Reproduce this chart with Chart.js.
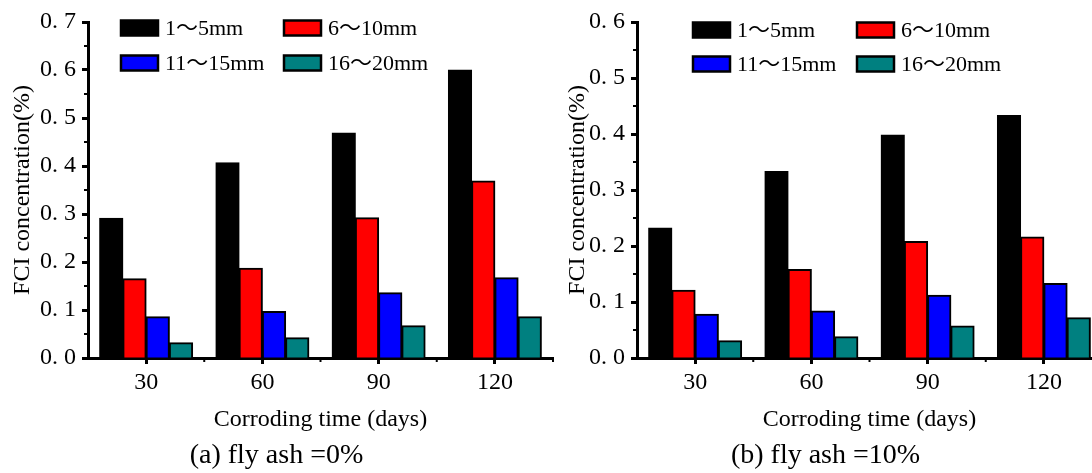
<!DOCTYPE html>
<html>
<head>
<meta charset="utf-8">
<script src="https://cdn.jsdelivr.net/npm/chart.js@4.4.0/dist/chart.umd.min.js"></script>
<style>
  html, body { margin: 0; padding: 0; background: #fff; overflow: hidden; width: 1092px; height: 473px; }
  canvas { position: absolute; top: 0; }
  #chart-a { left: 0; }
  #chart-b { left: 460px; }
</style>
</head>
<body>
<canvas id="chart-a" width="622" height="473"></canvas>
<canvas id="chart-b" width="658" height="473"></canvas>
<script>
// FCI concentration vs corroding time, two fly ash contents
const days = ['30', '60', '90', '120'];
const sizeLabels = ['1～5mm', '6～10mm', '11～15mm', '16～20mm'];
const sizeColors = ['#000000', '#ff0000', '#0000ff', '#008080'];

// (a) fly ash = 0%
const ash0_1to5 = [0.291, 0.407, 0.469, 0.600];
const ash0_6to10 = [0.165, 0.187, 0.292, 0.369];
const ash0_11to15 = [0.086, 0.097, 0.136, 0.167];
const ash0_16to20 = [0.032, 0.042, 0.067, 0.086];

// (b) fly ash = 10%
const ash10_1to5 = [0.232, 0.333, 0.398, 0.433];
const ash10_6to10 = [0.121, 0.158, 0.208, 0.216];
const ash10_11to15 = [0.078, 0.084, 0.112, 0.133];
const ash10_16to20 = [0.031, 0.038, 0.057, 0.072];

const FONT = '"Liberation Serif", "Times New Roman", "Noto Sans CJK SC", serif';

function isMajor(v) {
  return Math.round(v * 100) % 10 === 0;
}

// minor ticks + two-column legend
const extrasPlugin = {
  id: 'extras',
  afterDraw(chart, args, opts) {
    const ctx = chart.ctx;
    const area = chart.chartArea;
    const xs = chart.scales.x, ys = chart.scales.y;
    ctx.save();
    ctx.strokeStyle = '#000';
    ctx.lineWidth = 2;
    ys.ticks.forEach((t, i) => {
      if (!isMajor(t.value)) {
        const py = ys.getPixelForTick(i);
        ctx.beginPath();
        ctx.moveTo(area.left - 4, py);
        ctx.lineTo(area.left, py);
        ctx.stroke();
      }
    });
    const n = chart.data.labels.length;
    const w = (xs.right - xs.left) / n;
    for (let k = 1; k <= n; k++) {
      const px = xs.left + k * w;
      ctx.beginPath();
      ctx.moveTo(px, area.bottom);
      ctx.lineTo(px, area.bottom + 4);
      ctx.stroke();
    }

    ctx.font = '22px ' + FONT;
    ctx.textBaseline = 'middle';
    ctx.textAlign = 'left';
    chart.data.datasets.forEach((ds, i) => {
      const col = i % 2, row = Math.floor(i / 2);
      const bx = area.left + opts.x + col * opts.colGap;
      const by = opts.y + row * opts.rowGap;
      ctx.fillStyle = ds.backgroundColor;
      ctx.fillRect(bx, by - 7.5, 37, 15);
      ctx.lineWidth = 2.5;
      ctx.strokeRect(bx, by - 7.5, 37, 15);
      ctx.fillStyle = '#000';
      ctx.fillText(ds.label, bx + 44, by + 1);
    });
    ctx.restore();
  }
};

function makeChart(id, series, yMax, caption, cfg) {
  const datasets = series.map((vals, i) => ({
    label: sizeLabels[i],
    data: vals,
    backgroundColor: sizeColors[i],
    borderColor: '#000',
    borderWidth: 2,
    inflateAmount: 0.5,
    categoryPercentage: 0.8,
    barPercentage: 1.0
  }));

  return new Chart(document.getElementById(id).getContext('2d'), {
    type: 'bar',
    data: { labels: days, datasets: datasets },
    plugins: [extrasPlugin],
    options: {
      responsive: false,
      animation: false,
      devicePixelRatio: 1,
      layout: { padding: { top: 22, left: cfg.padLeft, right: cfg.padRight, bottom: 0 } },
      plugins: {
        legend: { display: false },
        tooltip: { enabled: false },
        title: {
          display: true,
          position: 'bottom',
          text: caption,
          color: '#000',
          font: { family: FONT, size: 28, weight: 'normal' },
          padding: { top: 0, bottom: 1 }
        },
        extras: cfg.legend
      },
      scales: {
        x: {
          afterFit: s => { s.height = 80.4; },
          border: { display: true, color: '#000', width: 3 },
          grid: {
            display: true, offset: false, drawOnChartArea: false,
            tickLength: 6, tickWidth: 3, tickColor: '#000'
          },
          ticks: { color: '#000', padding: 4, font: { family: FONT, size: 24 } },
          title: {
            display: true,
            text: 'Corroding time (days)',
            color: '#000',
            font: { family: FONT, size: 24 },
            padding: { top: 0, bottom: 4 }
          }
        },
        y: {
          min: 0,
          max: yMax,
          afterFit: s => { s.width = 88; },
          border: { display: true, color: '#000', width: 3 },
          grid: {
            display: true, drawOnChartArea: false,
            tickLength: 6, tickWidth: 3,
            tickColor: c => (c.tick && isMajor(c.tick.value)) ? '#000' : 'rgba(0,0,0,0)'
          },
          ticks: {
            stepSize: 0.05,
            autoSkip: false,
            padding: 6,
            color: '#000',
            font: { family: FONT, size: 24 },
            callback: v => isMajor(v) ? v.toFixed(1).replace('.', '. ') : ''
          },
          title: {
            display: true,
            text: 'FCI concentration(%)',
            color: '#000',
            font: { family: FONT, size: 24 },
            padding: { top: cfg.yTitlePad, bottom: 0 }
          }
        }
      }
    }
  });
}

makeChart('chart-a',
  [ash0_1to5, ash0_6to10, ash0_11to15, ash0_16to20],
  0.7, '(a) fly ash =0%',
  { padLeft: 0, padRight: 69, yTitlePad: 8, legend: { x: 33, y: 28, colGap: 163, rowGap: 35 } });

makeChart('chart-b',
  [ash10_1to5, ash10_6to10, ash10_11to15, ash10_16to20],
  0.6, '(b) fly ash =10%',
  { padLeft: 89, padRight: 16, yTitlePad: 14, legend: { x: 56, y: 30, colGap: 164, rowGap: 34 } });
</script>
</body>
</html>
